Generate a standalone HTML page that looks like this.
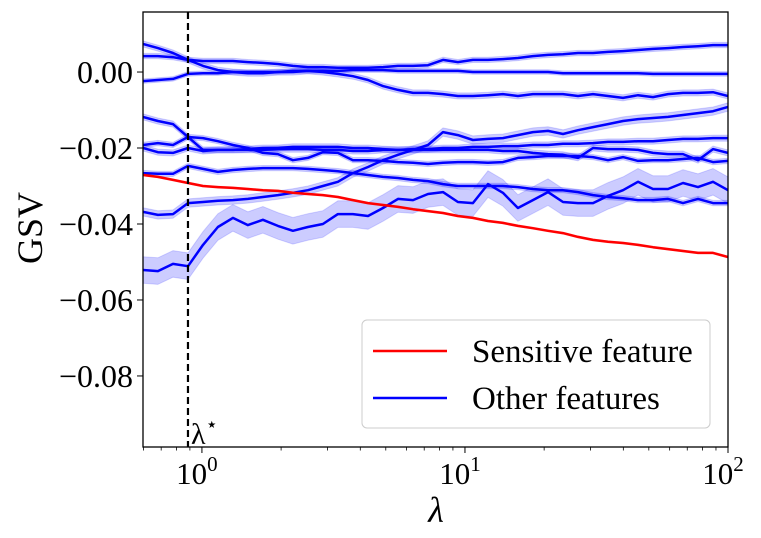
<!DOCTYPE html>
<html><head><meta charset="utf-8"><style>
html,body{margin:0;padding:0;background:#fff;}
svg{display:block;font-family:"Liberation Serif","DejaVu Serif",serif;}
</style></head><body>
<svg id="chart" width="761" height="538" viewBox="0 0 761 538" xmlns="http://www.w3.org/2000/svg"></svg>
<script>
const lambdas=[0.597,0.680,0.776,0.885,1.009,1.150,1.312,1.496,1.706,1.945,2.218,2.529,2.884,3.289,3.751,4.278,4.878,5.563,6.344,7.234,8.250,9.404,10.72,12.23,13.94,15.90,18.13,20.68,23.58,26.89,30.67,34.97,39.88,45.48,51.85,59.13,67.43,76.89,87.69,100];
// values in units of 1e-3 GSV
const sensitive=[-27.1,-27.6,-28.4,-29.2,-30.0,-30.3,-30.5,-30.8,-31.1,-31.3,-31.8,-32.1,-32.4,-32.9,-33.7,-34.5,-35.0,-35.5,-36.1,-36.6,-37.1,-37.9,-38.4,-39.2,-39.7,-40.5,-41.1,-41.8,-42.4,-43.4,-44.2,-44.7,-45.0,-45.5,-46.1,-46.6,-47.1,-47.6,-47.6,-48.7];
const featA=[7.4,6.3,5.0,3.2,1.6,0.5,0,-0.3,-0.3,0,0,0.3,0,-0.5,-1.1,-2.1,-3.7,-4.7,-5.5,-5.5,-5.8,-6.3,-6.3,-6.1,-5.8,-6.3,-5.8,-5.8,-5.8,-6.3,-5.8,-6.3,-6.8,-6.1,-6.6,-5.8,-5.5,-5.5,-5.3,-6.3];
const featB=[4.2,4.2,3.9,3.2,2.9,2.9,2.9,2.6,2.4,2.1,1.6,1.3,1.3,1.1,1.1,1.1,1.3,1.6,1.6,1.8,3.2,2.6,3.2,3.2,3.4,3.7,4.2,4.5,4.7,5.0,5.0,5.3,5.5,5.8,6.1,6.3,6.6,6.8,7.1,7.1];
const featC=[-2.4,-2.1,-1.8,-0.5,-0.3,-0.3,0,0,0,0,0.3,0.3,0.3,0.3,0.5,0.5,0.5,0.3,0.3,0.3,0.3,0.3,0,0,0,0,0,0,-0.3,-0.3,-0.3,-0.3,-0.3,-0.3,-0.5,-0.5,-0.5,-0.5,-0.5,-0.5];
const featD=[-11.8,-12.9,-13.7,-17.1,-20.5,-20.5,-20.5,-20.5,-20.5,-20.3,-20.3,-20.3,-20.5,-20.5,-20.8,-20.8,-20.5,-20.5,-20.3,-20.3,-20.0,-20.0,-19.7,-19.7,-19.5,-19.5,-19.2,-19.2,-18.9,-18.9,-18.7,-18.4,-18.4,-18.2,-18.2,-17.9,-17.6,-17.6,-17.4,-17.4];
const featP=[-19.2,-18.7,-19.2,-17.1,-17.4,-18.2,-19.2,-20.0,-21.3,-21.6,-23.2,-22.6,-21.1,-21.3,-23.2,-23.2,-23.4,-23.7,-23.9,-24.2,-23.9,-23.7,-23.7,-23.9,-23.7,-22.6,-22.4,-22.1,-22.1,-22.1,-22.4,-23.2,-22.4,-23.4,-23.2,-23.2,-22.9,-22.6,-23.7,-23.4];
const featQ=[-20.0,-21.1,-21.3,-20.0,-20.8,-20.5,-20.5,-20.3,-20.0,-20.0,-19.7,-19.7,-19.7,-19.7,-20.0,-20.0,-20.3,-20.5,-20.5,-20.5,-20.5,-20.5,-20.5,-20.5,-20.8,-20.8,-21.3,-21.6,-21.8,-22.6,-20.0,-20.3,-20.3,-20.5,-21.3,-21.6,-21.6,-23.2,-20.3,-21.3];
const featR=[-26.6,-26.8,-26.8,-24.7,-25.5,-26.3,-25.8,-25.5,-25.3,-25.3,-25.3,-25.5,-25.8,-26.1,-26.6,-27.1,-27.6,-27.9,-28.4,-28.7,-29.5,-30.0,-30.0,-30.0,-30.0,-30.3,-30.8,-31.1,-31.1,-31.6,-32.4,-32.9,-33.2,-33.7,-33.7,-33.4,-34.5,-33.4,-34.5,-34.5];
const featS=[-36.8,-37.6,-37.4,-34.5,-34.2,-33.9,-33.7,-33.4,-32.9,-32.4,-31.8,-31.1,-30.0,-28.9,-26.6,-25.0,-23.2,-21.8,-20.5,-19.2,-15.8,-16.6,-17.9,-17.6,-17.4,-16.6,-15.8,-15.5,-16.3,-15.3,-14.5,-13.7,-12.9,-12.4,-12.1,-11.8,-11.3,-10.8,-10.3,-9.2];
const featT=[-52.1,-52.4,-50.5,-51.1,-45.5,-40.8,-38.4,-40.3,-38.9,-40.5,-41.8,-40.8,-40.0,-37.4,-37.4,-37.9,-35.8,-33.4,-33.7,-32.1,-31.6,-34.2,-34.5,-29.5,-31.8,-35.8,-33.7,-31.6,-34.2,-34.5,-34.5,-32.6,-31.1,-28.9,-30.8,-30.8,-29.2,-30.3,-28.9,-31.1];
const otherFeatures=[featA,featB,featC,featD,featP,featQ,featR,featS,featT];
const otherErr=[0.8,0.7,0.6,0.8,0.7,0.8,0.7,1.1,3.5];
const sensitiveErr=0.25;
const yTicks=[0,-0.02,-0.04,-0.06,-0.08];
const yTickLabels=["0.00","\u22120.02","\u22120.04","\u22120.06","\u22120.08"];
const xTicks=[1,10,100];
const xTickExps=["0","1","2"];
const lambdaStar=0.885;

const NS="http://www.w3.org/2000/svg";
const svg=document.getElementById('chart');
const L=143,R=728,T=12,B=447;
const xMin=0.597,xMax=100,yMin=-0.0987,yMax=0.0158;
function sx(v){return L+(Math.log10(v)-Math.log10(xMin))/(Math.log10(xMax)-Math.log10(xMin))*(R-L);}
function sy(v){return B-(v-yMin)/(yMax-yMin)*(B-T);}
function el(tag,attrs,parent){const e=document.createElementNS(NS,tag);for(const k in attrs)e.setAttribute(k,attrs[k]);(parent||svg).appendChild(e);return e;}

const clip=el('clipPath',{id:'pc'});el('rect',{x:L,y:T,width:R-L,height:B-T},clip);
const plot=el('g',{'clip-path':'url(#pc)'});



function drawSeries(vals,err,color,name){
  const up=vals.map((v,i)=>sx(lambdas[i]).toFixed(1)+','+sy((v+err)/1000).toFixed(1));
  const dn=vals.map((v,i)=>sx(lambdas[i]).toFixed(1)+','+sy((v-err)/1000).toFixed(1)).reverse();
  const band=el('polygon',{points:up.concat(dn).join(' '),fill:color,'fill-opacity':0.2,stroke:color,'stroke-opacity':0.15},plot);
  
  
  const line=el('polyline',{points:vals.map((v,i)=>sx(lambdas[i]).toFixed(1)+','+sy(v/1000).toFixed(1)).join(' '),fill:'none',stroke:color,'stroke-width':2.5,'stroke-linejoin':'round'},plot);
  
  
}
otherFeatures.forEach((s,k)=>drawSeries(s,otherErr[k],'#0000ff','other-feature-'+(k+1)));
drawSeries(sensitive,sensitiveErr,'#ff0000','sensitive-feature');

const ls=el('line',{x1:sx(lambdaStar),x2:sx(lambdaStar),y1:T,y2:B,stroke:'#000','stroke-width':2.2,'stroke-dasharray':'7,4'});


const lst=el('text',{x:sx(lambdaStar)+3,y:444,'font-size':30});


lst.innerHTML='λ<tspan font-size="20" dy="-13">⋆</tspan>';

const frame=el('rect',{x:L,y:T,width:R-L,height:B-T,fill:'none',stroke:'#000','stroke-width':1.3});



yTicks.forEach((v,i)=>{
  const y=sy(v);
  const t=el('line',{x1:L-6,x2:L,y1:y,y2:y,stroke:'#000','stroke-width':1});
  
  
  const lb=el('text',{x:L-10,y:y+11,'text-anchor':'end','font-size':32});
  
  
  lb.textContent=yTickLabels[i];
});
xTicks.forEach((v,i)=>{
  const x=sx(v);
  const t=el('line',{x1:x,x2:x,y1:B,y2:B+6,stroke:'#000','stroke-width':1});
  
  
  const lb=el('text',{x:x-5,y:B+37,'text-anchor':'middle','font-size':31});
  
  
  lb.innerHTML='10<tspan font-size="21" dy="-13">'+xTickExps[i]+'</tspan>';
});
for(let d=-1;d<2;d++){for(let m=2;m<10;m++){const v=m*Math.pow(10,d);if(v<xMin||v>xMax)continue;const x=sx(v);
  const t=el('line',{x1:x,x2:x,y1:B,y2:B+3.5,stroke:'#000','stroke-width':0.8});
  
  }}

const xl=el('text',{x:436,y:522,'text-anchor':'middle','font-size':36,'font-style':'italic'});


xl.textContent='λ';
const yl=el('text',{x:0,y:0,'text-anchor':'middle','font-size':36,transform:'translate(42,228) rotate(-90)'});


yl.textContent='GSV';

const lg=el('g',{});


el('rect',{x:362,y:320,width:348,height:108,rx:5,fill:'#fff','fill-opacity':0.85,stroke:'#ccc','stroke-width':1},lg);
const e1=el('g',{},lg);


el('line',{x1:373,x2:447,y1:351,y2:351,stroke:'#ff0000','stroke-width':2.5},e1);
const t1=el('text',{x:472,y:362,'font-size':33},e1);t1.textContent='Sensitive feature';
const e2=el('g',{},lg);


el('line',{x1:373,x2:447,y1:398,y2:398,stroke:'#0000ff','stroke-width':2.5},e2);
const t2=el('text',{x:472,y:409,'font-size':33},e2);t2.textContent='Other features';
</script>
</body></html>
